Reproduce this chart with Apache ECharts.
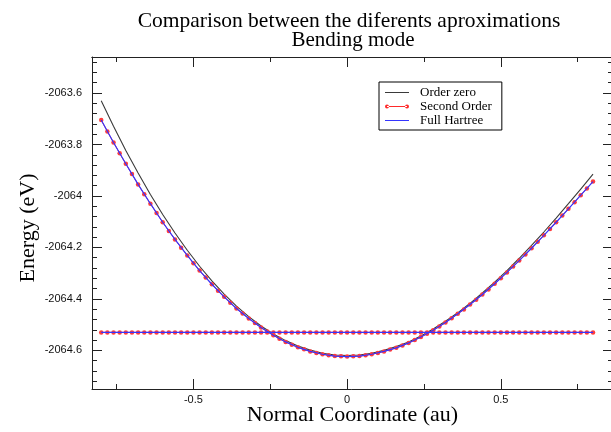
<!DOCTYPE html>
<html><head><meta charset="utf-8">
<script src="https://cdn.jsdelivr.net/npm/echarts@6/dist/echarts.min.js"></script>
<style>html,body{margin:0;padding:0;background:#fff}#c{width:611px;height:432px}</style>
</head><body><div id="c"></div>
<script>
// ---- data ----
const titleText = 'Comparison between the diferents aproximations';
const subTitleText = 'Bending mode';
const xName = 'Normal Coordinate (au)';
const yName = 'Energy (eV)';
const seriesNames = ['Order zero', 'Second Order', 'Full Hartree'];

const xMajorTicks = [-0.5, 0, 0.5];
const xMinorTicks = [-0.75, -0.25, 0.25, 0.75];
const yMajorTicks = [-2064.6, -2064.4, -2064.2, -2064, -2063.8, -2063.6];
const yMinorTicks = [-2064.72, -2064.68, -2064.64, -2064.56, -2064.52, -2064.48, -2064.44,
  -2064.36, -2064.32, -2064.28, -2064.24, -2064.16, -2064.12, -2064.08, -2064.04,
  -2063.96, -2063.92, -2063.88, -2063.84, -2063.76, -2063.72, -2063.68, -2063.64,
  -2063.56, -2063.52, -2063.48];

// Second Order (markers every 0.02)
const xSecond = [-0.80,-0.78,-0.76,-0.74,-0.72,-0.70,-0.68,-0.66,-0.64,-0.62,-0.60,-0.58,-0.56,-0.54,-0.52,-0.50,
  -0.48,-0.46,-0.44,-0.42,-0.40,-0.38,-0.36,-0.34,-0.32,-0.30,-0.28,-0.26,-0.24,-0.22,-0.20,-0.18,-0.16,-0.14,-0.12,-0.10,
  -0.08,-0.06,-0.04,-0.02,0.00,0.02,0.04,0.06,0.08,0.10,0.12,0.14,0.16,0.18,0.20,0.22,0.24,0.26,0.28,0.30,0.32,0.34,0.36,
  0.38,0.40,0.42,0.44,0.46,0.48,0.50,0.52,0.54,0.56,0.58,0.60,0.62,0.64,0.66,0.68,0.70,0.72,0.74,0.76,0.78,0.80];
const eSecond = [-2063.705,-2063.749,-2063.792,-2063.834,-2063.875,-2063.915,-2063.955,-2063.993,-2064.030,-2064.066,
  -2064.102,-2064.136,-2064.169,-2064.201,-2064.231,-2064.261,-2064.290,-2064.317,-2064.343,-2064.368,-2064.392,-2064.415,
  -2064.437,-2064.457,-2064.476,-2064.494,-2064.511,-2064.527,-2064.541,-2064.555,-2064.567,-2064.578,-2064.588,-2064.596,
  -2064.604,-2064.610,-2064.615,-2064.619,-2064.622,-2064.623,-2064.624,-2064.623,-2064.622,-2064.619,-2064.615,-2064.610,
  -2064.604,-2064.597,-2064.590,-2064.581,-2064.571,-2064.560,-2064.548,-2064.535,-2064.522,-2064.507,-2064.492,-2064.475,
  -2064.458,-2064.441,-2064.422,-2064.403,-2064.383,-2064.363,-2064.341,-2064.320,-2064.297,-2064.274,-2064.251,-2064.227,
  -2064.203,-2064.178,-2064.153,-2064.128,-2064.102,-2064.076,-2064.050,-2064.024,-2063.997,-2063.971,-2063.944];

// Full Hartree (every 0.04)
const xHartree = [-0.80,-0.76,-0.72,-0.68,-0.64,-0.60,-0.56,-0.52,-0.48,-0.44,-0.40,-0.36,-0.32,-0.28,-0.24,-0.20,-0.16,
  -0.12,-0.08,-0.04,0.00,0.04,0.08,0.12,0.16,0.20,0.24,0.28,0.32,0.36,0.40,0.44,0.48,0.52,0.56,0.60,0.64,0.68,0.72,0.76,0.80];
const eHartree = [-2063.705,-2063.792,-2063.875,-2063.955,-2064.030,-2064.102,-2064.169,-2064.231,-2064.290,-2064.343,
  -2064.392,-2064.437,-2064.476,-2064.511,-2064.541,-2064.567,-2064.588,-2064.604,-2064.615,-2064.622,-2064.624,-2064.622,
  -2064.615,-2064.604,-2064.590,-2064.571,-2064.548,-2064.522,-2064.492,-2064.458,-2064.422,-2064.383,-2064.341,-2064.297,
  -2064.251,-2064.203,-2064.153,-2064.102,-2064.050,-2063.997,-2063.944];

// Order zero (every 0.04)
const xZero = xHartree.slice();
const eZero = [-2063.630,-2063.729,-2063.823,-2063.911,-2063.994,-2064.072,-2064.144,-2064.211,-2064.273,-2064.330,
  -2064.381,-2064.428,-2064.469,-2064.505,-2064.536,-2064.562,-2064.583,-2064.599,-2064.611,-2064.618,-2064.620,-2064.618,
  -2064.611,-2064.600,-2064.585,-2064.567,-2064.544,-2064.517,-2064.487,-2064.454,-2064.417,-2064.377,-2064.335,-2064.290,
  -2064.242,-2064.192,-2064.140,-2064.086,-2064.030,-2063.973,-2063.915];

// horizontal reference level drawn with Second Order / Full Hartree styles
const eLevel = -2064.53;

// ---- chart ----
const SERIF = '"Liberation Serif", "DejaVu Serif", serif';
const SANS = '"Liberation Sans", "DejaVu Sans", sans-serif';
const X_MIN = -0.83, X_MAX = 0.865, Y_MIN = -2064.75, Y_MAX = -2063.46;
const C_BLACK = '#3a3a3a', C_RED = '#ff2a2a', C_BLUE = '#3535ff';
const pair = (xs, ys) => xs.map((x, i) => [x, ys[i]]);
const levelPts = xSecond.map(x => [x, eLevel]);

function xAx(pos, ticks, len, labels) {
  return {
    type: 'value', position: pos, min: X_MIN, max: X_MAX,
    axisLine: { show: !!labels || pos === 'top', onZero: false, lineStyle: { color: '#222', width: 1 } },
    axisTick: { show: true, inside: true, length: len, customValues: ticks, lineStyle: { color: '#222' } },
    axisLabel: labels ? { show: true, customValues: ticks, margin: 5, color: '#111', fontFamily: SANS, fontSize: 11,
      formatter: v => String(Math.round(v * 100) / 100) } : { show: false },
    splitLine: { show: false },
    name: labels ? xName : '', nameLocation: 'middle', nameGap: 15, nameMoveOverlap: false,
    nameTextStyle: { fontFamily: SERIF, fontSize: 22, color: '#000' }
  };
}
function yAx(pos, ticks, len, labels) {
  return {
    type: 'value', position: pos, min: Y_MIN, max: Y_MAX,
    axisLine: { show: !!labels || pos === 'right', onZero: false, lineStyle: { color: '#222', width: 1 } },
    axisTick: { show: true, inside: true, length: len, customValues: ticks, lineStyle: { color: '#222' } },
    axisLabel: labels ? { show: true, customValues: ticks, margin: 10, color: '#111', fontFamily: SANS, fontSize: 11,
      formatter: v => String(Math.round(v * 10) / 10) } : { show: false },
    splitLine: { show: false },
    name: labels ? yName : '', nameLocation: 'middle', nameGap: 53, nameMoveOverlap: false,
    nameTextStyle: { fontFamily: SERIF, fontSize: 22, color: '#000', padding: [0, 10, 0, 0] }
  };
}

const lineIcon = 'path://M0,0M24,10M0,4.5h24v1h-24z';
const dotLineIcon = 'path://M0,0M24,10M2,4.5h20v1h-20z M0,5a2,2 0 1,0 4,0a2,2 0 1,0 -4,0z M20,5a2,2 0 1,0 4,0a2,2 0 1,0 -4,0z';

const chart = echarts.init(document.getElementById('c'), null, { renderer: 'canvas' });
chart.setOption({
  backgroundColor: '#fff',
  animation: false,
  title: [
    { text: titleText, left: 344, top: 5, textAlign: 'center',
      textStyle: { fontFamily: SERIF, fontSize: 21.5, fontWeight: 'normal', color: '#000' } },
    { text: subTitleText, left: 348, top: 25, textAlign: 'center',
      textStyle: { fontFamily: SERIF, fontSize: 21, fontWeight: 'normal', color: '#000' } }
  ],
  grid: { left: 92, top: 57, right: -2, bottom: 43, containLabel: false, outerBoundsMode: 'none' },
  legend: {
    orient: 'vertical', left: 379, top: 82, padding: [4, 10, 3, 6], itemGap: 1,
    itemWidth: 24, itemHeight: 10, borderColor: '#000', borderWidth: 1, backgroundColor: '#fff',
    textStyle: { fontFamily: SERIF, fontSize: 13, color: '#000', lineHeight: 13, padding: [0, 0, 0, 6] },
    data: [
      { name: seriesNames[0], icon: lineIcon, itemStyle: { color: C_BLACK } },
      { name: seriesNames[1], icon: dotLineIcon, itemStyle: { color: C_RED } },
      { name: seriesNames[2], icon: lineIcon, itemStyle: { color: C_BLUE } }
    ]
  },
  xAxis: [
    xAx('bottom', xMajorTicks, 10, true),
    xAx('bottom', xMinorTicks, 5, false),
    xAx('top', xMajorTicks, 10, false),
    xAx('top', xMinorTicks, 5, false)
  ],
  yAxis: [
    yAx('left', yMajorTicks, 10, true),
    yAx('left', yMinorTicks, 5, false),
    yAx('right', yMajorTicks, 10, false),
    yAx('right', yMinorTicks, 5, false)
  ],
  series: [
    { name: seriesNames[0], type: 'line', data: pair(xZero, eZero), showSymbol: false, color: C_BLACK,
      lineStyle: { color: C_BLACK, width: 1.1 }, itemStyle: { color: C_BLACK }, z: 2 },
    { name: seriesNames[1], type: 'line', data: pair(xSecond, eSecond), symbol: 'circle', symbolSize: 4.5, color: C_RED,
      lineStyle: { color: C_RED, width: 1 }, itemStyle: { color: '#ff3c3c' }, z: 3 },
    { name: seriesNames[1], type: 'line', data: levelPts, symbol: 'circle', symbolSize: 4.5, color: C_RED,
      lineStyle: { color: C_RED, width: 1 }, itemStyle: { color: '#ff3c3c' }, z: 3 },
    { name: seriesNames[2], type: 'line', data: pair(xHartree, eHartree), showSymbol: false, color: C_BLUE,
      lineStyle: { color: C_BLUE, width: 1.2 }, itemStyle: { color: C_BLUE }, z: 4 },
    { name: seriesNames[2], type: 'line', data: [[xSecond[0], eLevel], [xSecond[xSecond.length - 1], eLevel]],
      showSymbol: false, color: C_BLUE, lineStyle: { color: C_BLUE, width: 1.2 }, itemStyle: { color: C_BLUE }, z: 4 }
  ]
});
</script>
</body></html>
